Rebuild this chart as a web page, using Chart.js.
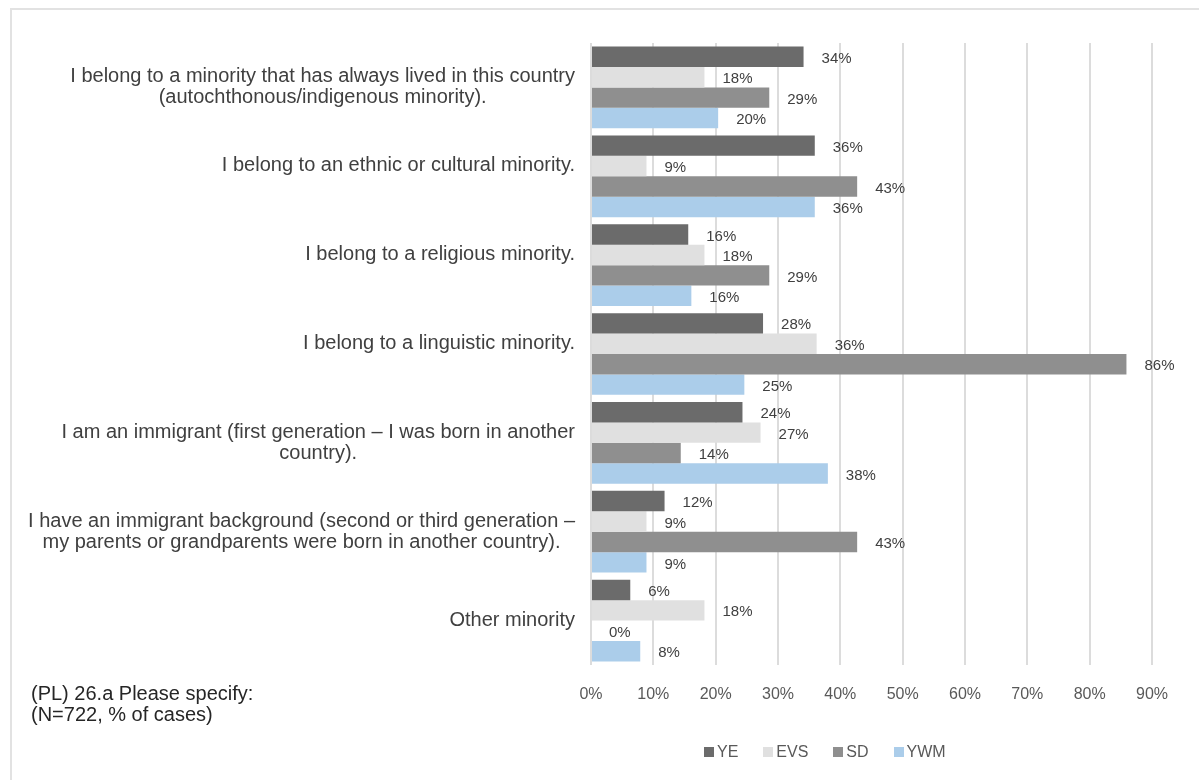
<!DOCTYPE html>
<html>
<head>
<meta charset="utf-8">
<script src="https://cdn.jsdelivr.net/npm/chart.js@4"></script>
<style>
  body { margin: 0; background: #fff; font-family: "Liberation Sans", Arial, sans-serif; }
  #wrap { position: relative; width: 1199px; height: 780px; overflow: hidden; }
  #marco { position: absolute; left: 10px; top: 8px; width: 1400px; height: 900px;
           border-left: 2px solid #e2e2e2; border-top: 2px solid #e2e2e2; }
  #grafica { position: absolute; left: 0; top: 0; }
  #nota { position: absolute; left: 31px; top: 683px; font-size: 20px; line-height: 21px; color: #262626; }
  #leyenda { position: absolute; left: 704px; top: 742px; display: flex; gap: 25px;
             font-size: 16px; line-height: 20px; color: #595959; }
  .item { display: flex; align-items: center; }
  .caja { width: 10px; height: 10px; margin-right: 3px; }
</style>
</head>
<body>
<div id="wrap">
  <div id="marco"></div>
  <canvas id="grafica" width="1199" height="780"></canvas>
  <div id="nota">(PL) 26.a Please specify:<br>(N=722, % of cases)</div>
  <div id="leyenda"></div>
</div>
<script>
    // categorías (cada una como lista de líneas)
    const categorias = [
      ["I belong to a minority that has always lived in this country", "(autochthonous/indigenous minority)."],
      ["I belong to an ethnic or cultural minority.", ""],
      ["I belong to a religious minority.", ""],
      ["I belong to a linguistic minority.", ""],
      ["I am an immigrant (first generation \u2013 I was born in another", "country)."],
      ["I have an immigrant background (second or third generation \u2013", "my parents or grandparents were born in another country)."],
      ["Other minority"]
    ];
    const series = ["YE", "EVS", "SD", "YWM"];
    const colores = ["#6b6b6b", "#e0e0e0", "#8f8f8f", "#abcdea"];

    // % de casos
    const ye  = [34.1, 35.9, 15.6, 27.6, 24.3, 11.8, 6.3];
    const evs = [18.2, 8.9, 18.2, 36.2, 27.2, 8.9, 18.2];
    const sd  = [28.6, 42.7, 28.6, 85.9, 14.4, 42.7, 0];
    const ywm = [20.4, 35.9, 16.1, 24.6, 38.0, 8.9, 7.9];

    const ticksX = [0, 10, 20, 30, 40, 50, 60, 70, 80, 90];

    const fuente = '"Liberation Sans", Arial, sans-serif';

    // etiquetas de valor a la derecha de cada barra
    const etiquetasValor = {
      id: "etiquetasValor",
      afterDatasetsDraw(chart) {
        const ctx = chart.ctx;
        ctx.save();
        ctx.font = "15px " + fuente;
        ctx.fillStyle = "#404040";
        ctx.textAlign = "left";
        ctx.textBaseline = "middle";
        chart.data.datasets.forEach((ds, i) => {
          chart.getDatasetMeta(i).data.forEach((bar, j) => {
            ctx.fillText(Math.round(ds.data[j]) + "%", bar.x + 18, bar.y + 2);
          });
        });
        ctx.restore();
      }
    };

    // etiquetas de categoría: bloque alineado a la derecha, líneas centradas
    const etiquetasCategoria = {
      id: "etiquetasCategoria",
      afterDraw(chart) {
        const ctx = chart.ctx;
        const ejeY = chart.scales.y;
        const derecha = ejeY.right - 16;
        const alto = 21;
        ctx.save();
        ctx.font = "20px " + fuente;
        ctx.fillStyle = "#404040";
        ctx.textAlign = "center";
        ctx.textBaseline = "middle";
        categorias.forEach((lineas, i) => {
          const ancho = Math.max(...lineas.map(l => ctx.measureText(l).width));
          const cx = derecha - ancho / 2;
          const y0 = ejeY.getPixelForTick(i) - (lineas.length - 1) * alto / 2;
          lineas.forEach((l, k) => ctx.fillText(l, cx, y0 + k * alto));
        });
        ctx.restore();
      }
    };

    const datos = [ye, evs, sd, ywm];

    const ctx = document.getElementById("grafica").getContext("2d");
    new Chart(ctx, {
      type: "bar",
      data: {
        labels: categorias.map(c => c.join(" ")),
        datasets: series.map((s, i) => ({
          label: s,
          data: datos[i],
          backgroundColor: colores[i],
          borderWidth: 0,
          categoryPercentage: 0.92,
          barPercentage: 1.0
        }))
      },
      options: {
        indexAxis: "y",
        responsive: false,
        animation: false,
        layout: { padding: { top: 43, right: 47, left: 0, bottom: 0 } },
        scales: {
          x: {
            position: "bottom",
            min: 0,
            max: 90,
            afterBuildTicks(s) { s.ticks = ticksX.map(v => ({ value: v })); },
            afterFit(s) { s.height = 115; },
            ticks: {
              callback: v => v + "%",
              color: "#595959",
              font: { family: fuente, size: 16 },
              padding: 20,
              maxRotation: 0
            },
            grid: { color: "#dcdcdc", lineWidth: 2, drawTicks: false },
            border: { display: false }
          },
          y: {
            afterFit(s) { s.width = 591; },
            ticks: { display: false },
            grid: { display: false },
            border: { display: false }
          }
        },
        plugins: {
          legend: { display: false },
          tooltip: { enabled: false }
        }
      },
      plugins: [etiquetasValor, etiquetasCategoria]
    });

    // leyenda
    const leyenda = document.getElementById("leyenda");
    series.forEach((s, i) => {
      leyenda.innerHTML += `<div class="item"><span class="caja" style="background:${colores[i]}"></span>${s}</div>`;
    });
</script>
</body>
</html>
